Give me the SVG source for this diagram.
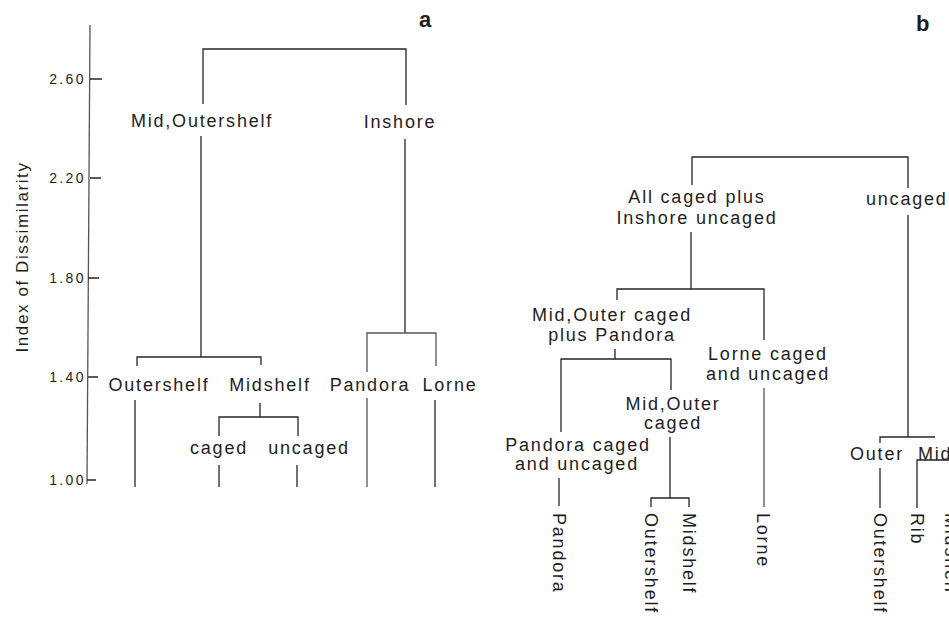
<svg xmlns="http://www.w3.org/2000/svg" width="949" height="617" viewBox="0 0 949 617">
<style>
.ln{fill:none;stroke:#262626;stroke-width:1.3}
.lg{fill:none;stroke:#555;stroke-width:1.3}
text{font-family:"Liberation Sans",Arial,sans-serif;fill:#1e1e1e}
.lb{font-size:18px;letter-spacing:1.8px;text-anchor:middle}
.ls{font-size:18px;letter-spacing:1.8px}
.tk{font-size:14px;letter-spacing:2.4px;text-anchor:end}
.pl{font-size:22px;font-weight:bold}
</style>
<rect width="949" height="617" fill="#fff"/>
<g id="axis">
<path class="lg" d="M90,25 L87,484"/>
<path class="ln" d="M90,79 H102 M90,178 H101 M88,278 H99 M88,377 H98 M87,480 H96"/>
<text class="tk" x="86" y="84">2.60</text>
<text class="tk" x="86" y="183">2.20</text>
<text class="tk" x="86" y="283">1.80</text>
<text class="tk" x="86" y="382">1.40</text>
<text class="tk" x="86" y="485">1.00</text>
<text transform="translate(28,257) rotate(-90)" style="font-size:17px;letter-spacing:1.6px;text-anchor:middle">Index of Dissimilarity</text>
</g>
<g id="labels-panels">
<text class="pl" x="419" y="27">a</text>
<text class="pl" x="916" y="31">b</text>
</g>
<g id="connectors">
<path class="ln" d="M203,104 V49 H406 V105"/>
<path class="ln" d="M201,136 V357"/>
<path class="ln" d="M405,139 V333"/>
<path class="ln" d="M137,366 V357 H261 V365"/>
<path class="ln" d="M135,400 V487"/>
<path class="ln" d="M260,403 V417 M219,436 V417 H298 V436"/>
<path class="ln" d="M219,465 V487 M297,465 V487"/>
<path class="lg" d="M367,372 V333 H436 V366"/>
<path class="lg" d="M367,398 V487"/>
<path class="ln" d="M435,400 V487"/>
<path class="ln" d="M692,185 V157 H908 V188"/>
<path class="ln" d="M691,232 V289 M617,300 V289 H764 V340"/>
<path class="lg" d="M764,388 V507"/>
<path class="ln" d="M615,349 V359 M561,432 V359 H671 V390"/>
<path class="ln" d="M559,478 V506"/>
<path class="ln" d="M670,437 V498 M651,507 V498 H689 V507"/>
<path class="ln" d="M908,215 V437 M880,443 V437 H935"/>
<path class="ln" d="M880,468 V508"/>
<path class="ln" d="M917,508 V460 H949"/>
</g>
<g id="node-a-root-left"><text class="lb" x="202" y="127">Mid,Outershelf</text></g>
<g id="node-a-root-right"><text class="lb" x="400" y="128">Inshore</text></g>
<g id="node-a-outershelf"><text class="lb" x="159" y="391">Outershelf</text></g>
<g id="node-a-midshelf"><text class="lb" x="270" y="391">Midshelf</text></g>
<g id="node-a-pandora"><text class="lb" x="370" y="391">Pandora</text></g>
<g id="node-a-lorne"><text class="lb" x="450" y="391">Lorne</text></g>
<g id="node-a-caged"><text class="lb" x="219" y="454">caged</text></g>
<g id="node-a-uncaged"><text class="lb" x="309" y="454">uncaged</text></g>
<g id="node-b-allcaged"><text class="lb" x="697" y="203">All  caged plus</text><text class="lb" x="697" y="224">Inshore uncaged</text></g>
<g id="node-b-uncaged"><text class="ls" x="866" y="205">uncaged</text></g>
<g id="node-b-midouterpandora"><text class="lb" x="612" y="321">Mid,Outer  caged</text><text class="lb" x="612" y="341">plus Pandora</text></g>
<g id="node-b-lorne"><text class="lb" x="768" y="360">Lorne caged</text><text class="lb" x="768" y="380">and  uncaged</text></g>
<g id="node-b-midoutercaged"><text class="lb" x="673" y="410">Mid,Outer</text><text class="lb" x="673" y="429">caged</text></g>
<g id="node-b-pandora"><text class="lb" x="578" y="451">Pandora caged</text><text class="lb" x="577" y="470">and uncaged</text></g>
<g id="node-b-outer"><text class="ls" x="850" y="460">Outer</text></g>
<g id="node-b-mid"><text class="ls" x="918" y="460">Mid</text></g>
<g id="leaves-b">
<text class="ls" transform="translate(559,513) rotate(90)" dy="0.35em">Pandora</text>
<text class="ls" transform="translate(651,513) rotate(90)" dy="0.35em">Outershelf</text>
<text class="ls" transform="translate(689,513) rotate(90)" dy="0.35em">Midshelf</text>
<text class="ls" transform="translate(763,513) rotate(90)" dy="0.35em">Lorne</text>
<text class="ls" transform="translate(880,513) rotate(90)" dy="0.35em">Outershelf</text>
<text class="ls" transform="translate(917,513) rotate(90)" dy="0.35em">Rib</text>
<text class="ls" transform="translate(945,513) rotate(90)">Midshelf</text>
</g>
</svg>
